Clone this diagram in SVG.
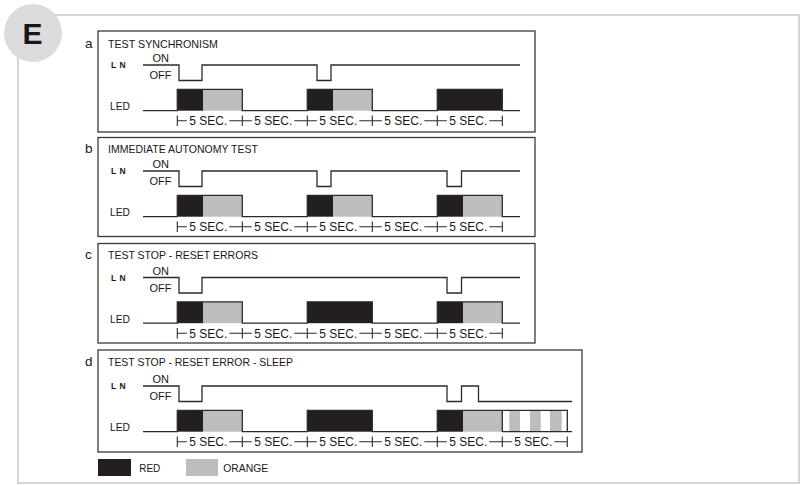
<svg xmlns="http://www.w3.org/2000/svg" width="803" height="485" viewBox="0 0 803 485">
<style>
text{font-family:"Liberation Sans",Arial,sans-serif;fill:#1a1718}
.ttl{font-size:11.5px}
.lab{font-size:13.5px}
.ln{font-size:8.5px;font-weight:bold;letter-spacing:0.6px}
.oo{font-size:11px}
.led{font-size:11.5px}
.sec{font-size:12.5px}
.box{fill:none;stroke:#3a3a3a;stroke-width:1.3}
.wave{fill:none;stroke:#2b2b2b;stroke-width:1.3}
.tl{fill:none;stroke:#2b2b2b;stroke-width:1.1}
.red{fill:#231f20}
.org{fill:#bcbdbf}
.frame{fill:none;stroke:#d6d6d6;stroke-width:2}
</style>
<rect width="803" height="485" fill="#ffffff"/>
<g id="frame">
<path class="frame" d="M55,15 H799 V483 H18 V55"/>
<circle cx="33" cy="33" r="29" fill="#dcdcdc"/>
<text x="32.5" y="43.5" text-anchor="middle" style="font-size:30px;font-weight:bold">E</text>
</g>

<g id="panel-a">
<rect class="box" x="98" y="31" width="437" height="101"/>
<text class="lab" x="85" y="47.5">a</text>
<text class="ttl" x="108" y="48" textLength="110" lengthAdjust="spacingAndGlyphs">TEST SYNCHRONISM</text>
<g>
<text class="ln" x="111" y="68">L N</text>
<text class="oo" x="152.5" y="62">ON</text>
<text class="oo" x="149.5" y="79">OFF</text>
<text class="led" x="110" y="110" textLength="20" lengthAdjust="spacingAndGlyphs">LED</text>
<rect class="red" x="177.3" y="89.3" width="26" height="21.4"/><rect class="org" x="203.3" y="89.3" width="39" height="21.4"/>
<rect class="red" x="307.3" y="89.3" width="26" height="21.4"/><rect class="org" x="333.3" y="89.3" width="39" height="21.4"/>
<rect class="red" x="437.3" y="89.3" width="65" height="21.4"/>
<path class="tl" d="M177.3,120.7 H186.8 M229.3,120.7 H251.8 M294.3,120.7 H316.8 M359.3,120.7 H381.8 M424.3,120.7 H446.8 M489.3,120.7 H502.3 M177.3,115.5 V126 M242.3,115.5 V126 M307.3,115.5 V126 M372.3,115.5 V126 M437.3,115.5 V126 M502.3,115.5 V126"/>
<text class="sec" x="189.3" y="125.2" textLength="38" lengthAdjust="spacingAndGlyphs">5 SEC.</text>
<text class="sec" x="254.3" y="125.2" textLength="38" lengthAdjust="spacingAndGlyphs">5 SEC.</text>
<text class="sec" x="319.3" y="125.2" textLength="38" lengthAdjust="spacingAndGlyphs">5 SEC.</text>
<text class="sec" x="384.3" y="125.2" textLength="38" lengthAdjust="spacingAndGlyphs">5 SEC.</text>
<text class="sec" x="449.3" y="125.2" textLength="38" lengthAdjust="spacingAndGlyphs">5 SEC.</text>
</g>
</g>

<g id="panel-b">
<rect class="box" x="98" y="137.5" width="437" height="99"/>
<text class="lab" x="85" y="153">b</text>
<text class="ttl" x="108" y="153.3" textLength="150" lengthAdjust="spacingAndGlyphs">IMMEDIATE AUTONOMY TEST</text>
<g transform="translate(0,106)">
<text class="ln" x="111" y="68">L N</text>
<text class="oo" x="152.5" y="62">ON</text>
<text class="oo" x="149.5" y="79">OFF</text>
<text class="led" x="110" y="110" textLength="20" lengthAdjust="spacingAndGlyphs">LED</text>
<rect class="red" x="177.3" y="89.3" width="26" height="21.4"/><rect class="org" x="203.3" y="89.3" width="39" height="21.4"/>
<rect class="red" x="307.3" y="89.3" width="26" height="21.4"/><rect class="org" x="333.3" y="89.3" width="39" height="21.4"/>
<rect class="red" x="437.3" y="89.3" width="26" height="21.4"/><rect class="org" x="463.3" y="89.3" width="39" height="21.4"/>
<path class="tl" d="M177.3,120.7 H186.8 M229.3,120.7 H251.8 M294.3,120.7 H316.8 M359.3,120.7 H381.8 M424.3,120.7 H446.8 M489.3,120.7 H502.3 M177.3,115.5 V126 M242.3,115.5 V126 M307.3,115.5 V126 M372.3,115.5 V126 M437.3,115.5 V126 M502.3,115.5 V126"/>
<text class="sec" x="189.3" y="125.2" textLength="38" lengthAdjust="spacingAndGlyphs">5 SEC.</text>
<text class="sec" x="254.3" y="125.2" textLength="38" lengthAdjust="spacingAndGlyphs">5 SEC.</text>
<text class="sec" x="319.3" y="125.2" textLength="38" lengthAdjust="spacingAndGlyphs">5 SEC.</text>
<text class="sec" x="384.3" y="125.2" textLength="38" lengthAdjust="spacingAndGlyphs">5 SEC.</text>
<text class="sec" x="449.3" y="125.2" textLength="38" lengthAdjust="spacingAndGlyphs">5 SEC.</text>
</g>
</g>

<g id="panel-c">
<rect class="box" x="98" y="243.5" width="437" height="99.5"/>
<text class="lab" x="85" y="258.5">c</text>
<text class="ttl" x="108" y="259" textLength="150" lengthAdjust="spacingAndGlyphs">TEST STOP - RESET ERRORS</text>
<g transform="translate(0,212.5)">
<text class="ln" x="111" y="68">L N</text>
<text class="oo" x="152.5" y="62">ON</text>
<text class="oo" x="149.5" y="79">OFF</text>
<text class="led" x="110" y="110" textLength="20" lengthAdjust="spacingAndGlyphs">LED</text>
<rect class="red" x="177.3" y="89.3" width="26" height="21.4"/><rect class="org" x="203.3" y="89.3" width="39" height="21.4"/>
<rect class="red" x="307.3" y="89.3" width="65" height="21.4"/>
<rect class="red" x="437.3" y="89.3" width="26" height="21.4"/><rect class="org" x="463.3" y="89.3" width="39" height="21.4"/>
<path class="tl" d="M177.3,120.7 H186.8 M229.3,120.7 H251.8 M294.3,120.7 H316.8 M359.3,120.7 H381.8 M424.3,120.7 H446.8 M489.3,120.7 H502.3 M177.3,115.5 V126 M242.3,115.5 V126 M307.3,115.5 V126 M372.3,115.5 V126 M437.3,115.5 V126 M502.3,115.5 V126"/>
<text class="sec" x="189.3" y="125.2" textLength="38" lengthAdjust="spacingAndGlyphs">5 SEC.</text>
<text class="sec" x="254.3" y="125.2" textLength="38" lengthAdjust="spacingAndGlyphs">5 SEC.</text>
<text class="sec" x="319.3" y="125.2" textLength="38" lengthAdjust="spacingAndGlyphs">5 SEC.</text>
<text class="sec" x="384.3" y="125.2" textLength="38" lengthAdjust="spacingAndGlyphs">5 SEC.</text>
<text class="sec" x="449.3" y="125.2" textLength="38" lengthAdjust="spacingAndGlyphs">5 SEC.</text>
</g>
</g>

<g id="panel-d">
<rect class="box" x="98" y="350" width="484" height="102"/>
<text class="lab" x="85" y="365.5">d</text>
<text class="ttl" x="108" y="365.7" textLength="185" lengthAdjust="spacingAndGlyphs">TEST STOP - RESET ERROR - SLEEP</text>
<g transform="translate(0,321)">
<text class="ln" x="111" y="68">L N</text>
<text class="oo" x="152.5" y="62">ON</text>
<text class="oo" x="149.5" y="79">OFF</text>
<text class="led" x="110" y="110" textLength="20" lengthAdjust="spacingAndGlyphs">LED</text>
<rect class="red" x="177.3" y="89.3" width="26" height="21.4"/><rect class="org" x="203.3" y="89.3" width="39" height="21.4"/>
<rect class="red" x="307.3" y="89.3" width="65" height="21.4"/>
<rect class="red" x="437.3" y="89.3" width="26" height="21.4"/><rect class="org" x="463.3" y="89.3" width="39" height="21.4"/>
<rect class="org" x="509.3" y="89.3" width="10.7" height="21.4"/>
<rect class="org" x="530" y="89.3" width="10.7" height="21.4"/>
<rect class="org" x="550" y="89.3" width="11.7" height="21.4"/>
<path class="tl" d="M177.3,120.7 H186.8 M229.3,120.7 H251.8 M294.3,120.7 H316.8 M359.3,120.7 H381.8 M424.3,120.7 H446.8 M489.3,120.7 H511.8 M554.3,120.7 H567.3 M177.3,115.5 V126 M242.3,115.5 V126 M307.3,115.5 V126 M372.3,115.5 V126 M437.3,115.5 V126 M502.3,115.5 V126 M567.3,115.5 V126"/>
<text class="sec" x="189.3" y="125.2" textLength="38" lengthAdjust="spacingAndGlyphs">5 SEC.</text>
<text class="sec" x="254.3" y="125.2" textLength="38" lengthAdjust="spacingAndGlyphs">5 SEC.</text>
<text class="sec" x="319.3" y="125.2" textLength="38" lengthAdjust="spacingAndGlyphs">5 SEC.</text>
<text class="sec" x="384.3" y="125.2" textLength="38" lengthAdjust="spacingAndGlyphs">5 SEC.</text>
<text class="sec" x="449.3" y="125.2" textLength="38" lengthAdjust="spacingAndGlyphs">5 SEC.</text>
<text class="sec" x="514.3" y="125.2" textLength="38" lengthAdjust="spacingAndGlyphs">5 SEC.</text>
</g>
</g>

<g id="connectors">
<path class="wave" d="M143,65 H179 V80.5 H202 V65 H317 V80.5 H331 V65 H520"/>
<path class="wave" d="M143,110.7 H177.3 V89.3 H242.3 V110.7 H307.3 V89.3 H372.3 V110.7 H437.3 V89.3 H502.3 V110.7 H520"/>
<g transform="translate(0,106)">
<path class="wave" d="M143,65 H179 V80.5 H202 V65 H317 V80.5 H331 V65 H447 V80.5 H461.5 V65 H520"/>
<path class="wave" d="M143,110.7 H177.3 V89.3 H242.3 V110.7 H307.3 V89.3 H372.3 V110.7 H437.3 V89.3 H502.3 V110.7 H520"/>
</g>
<g transform="translate(0,212.5)">
<path class="wave" d="M143,65 H179 V80.5 H202 V65 H447 V80.5 H461.5 V65 H520"/>
<path class="wave" d="M143,110.7 H177.3 V89.3 H242.3 V110.7 H307.3 V89.3 H372.3 V110.7 H437.3 V89.3 H502.3 V110.7 H520"/>
</g>
<g transform="translate(0,321)">
<path class="wave" d="M143,65 H179 V80.5 H202 V65 H447 V80.5 H461.5 V65 H478.5 V80.5 H572"/>
<path class="wave" d="M143,110.7 H177.3 V89.3 H242.3 V110.7 H307.3 V89.3 H372.3 V110.7 H437.3 V89.3 H567.3 V110.7 H572 M502.3,89.3 V110.7 M502.3,110.7 H567.3"/>
</g>
</g>

<g id="legend">
<rect class="red" x="98" y="459" width="33" height="17"/>
<text class="led" x="139.3" y="471.5" textLength="21" lengthAdjust="spacingAndGlyphs">RED</text>
<rect class="org" x="186" y="459" width="32" height="17"/>
<text class="led" x="223.3" y="471.5" textLength="45" lengthAdjust="spacingAndGlyphs">ORANGE</text>
</g>
</svg>
